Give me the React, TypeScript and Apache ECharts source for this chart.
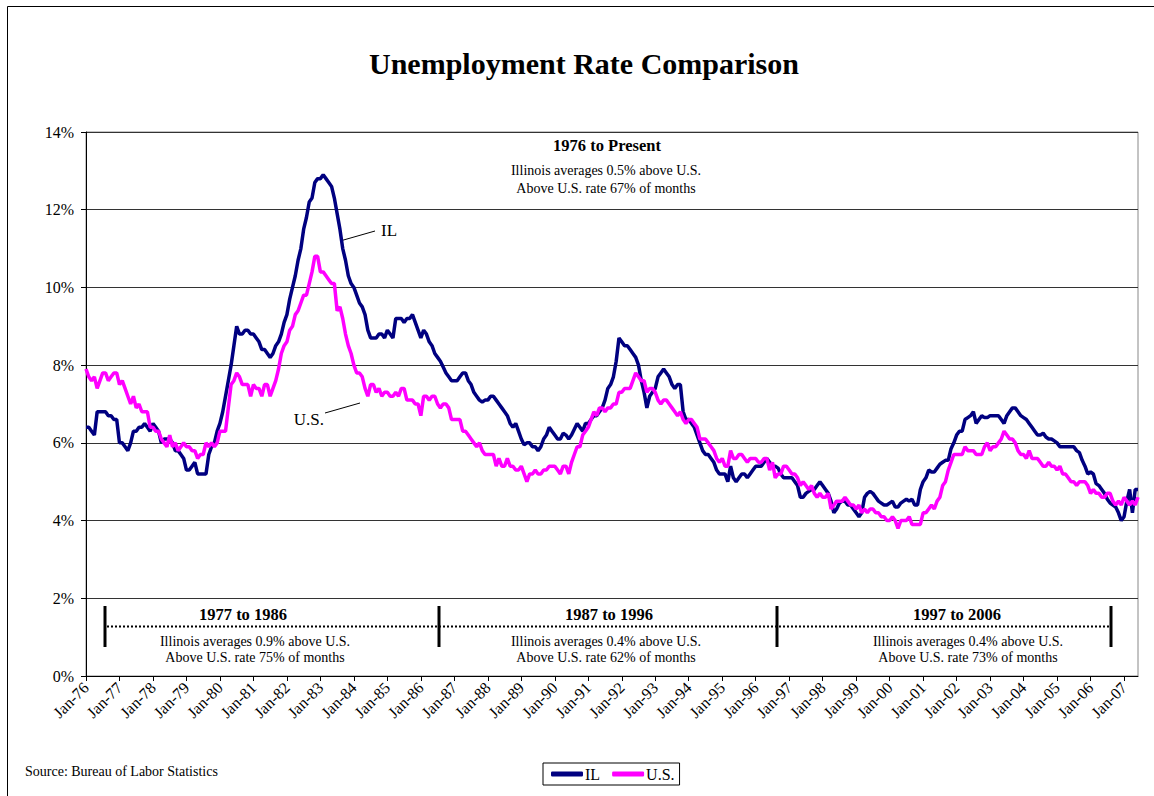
import { useEffect, useRef } from 'react';
import * as echarts from 'echarts';

const START_YEAR = 1976;
const MONTHS = ['Jan', 'Feb', 'Mar', 'Apr', 'May', 'Jun', 'Jul', 'Aug', 'Sep', 'Oct', 'Nov', 'Dec'];
const N_MONTHS = 378; // Jan-76 .. Jun-07

const Y_TICKS = [0, 2, 4, 6, 8, 10, 12, 14];

// Illinois unemployment rate (%), monthly
const il1976_1985 = [
  6.4, 6.4, 6.3, 6.2, 6.8, 6.8, 6.8, 6.8, 6.7, 6.7, 6.6, 6.6,
  6.0, 6.0, 5.9, 5.8, 6.0, 6.3, 6.3, 6.4, 6.4, 6.5, 6.4, 6.3,
  6.5, 6.4, 6.3, 6.0, 6.1, 6.1, 6.1, 6.0, 5.8, 5.8, 5.7, 5.6,
  5.3, 5.3, 5.4, 5.5, 5.2, 5.2, 5.2, 5.2, 5.7, 5.9, 6.0, 6.3,
  6.5, 6.8, 7.2, 7.6, 8.0, 8.5, 9.0, 8.8, 8.8, 8.9, 8.9, 8.8,
  8.8, 8.7, 8.6, 8.4, 8.4, 8.3, 8.2, 8.3, 8.5, 8.6, 8.8, 9.1,
  9.3, 9.7, 10.0, 10.3, 10.7, 11.0, 11.5, 11.8, 12.2, 12.3, 12.7, 12.8,
  12.8, 12.9, 12.8, 12.7, 12.6, 12.3, 11.9, 11.5, 11.0, 10.7, 10.3, 10.1,
  10.0, 9.8, 9.6, 9.5, 9.3, 8.9, 8.7, 8.7, 8.7, 8.8, 8.8, 8.7,
  8.9, 8.8, 8.7, 9.2, 9.2, 9.2, 9.1, 9.2, 9.2, 9.3, 9.1, 8.9,
];
const il1986_1995 = [
  8.7, 8.9, 8.8, 8.6, 8.5, 8.3, 8.2, 8.1, 7.95, 7.8, 7.7, 7.6,
  7.6, 7.6, 7.7, 7.8, 7.8, 7.6, 7.5, 7.3, 7.2, 7.1, 7.05, 7.1,
  7.1, 7.2, 7.2, 7.1, 7.0, 6.9, 6.8, 6.7, 6.5, 6.4, 6.5, 6.3,
  6.1, 5.95, 6.0, 6.0, 5.9, 5.9, 5.8, 5.9, 6.1, 6.2, 6.4, 6.3,
  6.2, 6.1, 6.1, 6.25, 6.2, 6.1, 6.2, 6.35, 6.5, 6.4, 6.3, 6.5,
  6.5, 6.6, 6.7, 6.7, 6.8, 6.9, 7.1, 7.4, 7.5, 7.7, 8.1, 8.7,
  8.6, 8.5, 8.5, 8.4, 8.3, 8.2, 8.0, 7.6, 7.3, 6.9, 7.2, 7.3,
  7.4, 7.7, 7.8, 7.9, 7.8, 7.7, 7.5, 7.4, 7.5, 7.5, 6.8, 6.6,
  6.6, 6.5, 6.4, 6.2, 6.0, 5.8, 5.7, 5.7, 5.6, 5.5, 5.3, 5.2,
  5.2, 5.2, 5.0, 5.4, 5.1, 5.0, 5.1, 5.2, 5.2, 5.1, 5.2, 5.3,
];
const il1996_2007 = [
  5.4, 5.4, 5.4, 5.5, 5.6, 5.5, 5.4, 5.4, 5.35, 5.2, 5.1, 5.1,
  5.1, 5.1, 5.0, 4.9, 4.6, 4.6, 4.7, 4.75, 4.8, 4.8, 4.9, 5.0,
  4.9, 4.8, 4.7, 4.5, 4.2, 4.3, 4.45, 4.5, 4.5, 4.4, 4.4, 4.3,
  4.2, 4.1, 4.2, 4.6, 4.7, 4.75, 4.7, 4.6, 4.5, 4.45, 4.4, 4.4,
  4.45, 4.5, 4.35, 4.35, 4.45, 4.5, 4.55, 4.5, 4.55, 4.4, 4.4, 4.8,
  5.0, 5.1, 5.3, 5.25, 5.25, 5.35, 5.45, 5.5, 5.55, 5.55, 5.85, 6.0,
  6.2, 6.3, 6.3, 6.6, 6.65, 6.7, 6.8, 6.5, 6.6, 6.7, 6.65, 6.65,
  6.7, 6.7, 6.7, 6.7, 6.6, 6.5, 6.7, 6.8, 6.9, 6.9, 6.8, 6.7,
  6.65, 6.6, 6.5, 6.4, 6.3, 6.2, 6.2, 6.25, 6.15, 6.1, 6.1, 6.05,
  6.0, 5.9, 5.9, 5.9, 5.9, 5.9, 5.9, 5.8, 5.75, 5.55, 5.4, 5.2,
  5.25, 5.2, 4.95, 4.9, 4.8, 4.7, 4.55, 4.45, 4.4, 4.35, 4.2, 4.0,
  4.1, 4.5, 4.8, 4.2, 4.8, 4.8,
];

// U.S. unemployment rate (%), monthly
const us1976_1985 = [
  7.9, 7.7, 7.6, 7.7, 7.4, 7.6, 7.8, 7.8, 7.6, 7.7, 7.8, 7.8,
  7.5, 7.6, 7.4, 7.2, 7.0, 7.2, 6.9, 7.0, 6.8, 6.8, 6.8, 6.4,
  6.4, 6.3, 6.3, 6.1, 6.0, 5.9, 6.2, 5.9, 6.0, 5.8, 5.9, 6.0,
  5.9, 5.9, 5.8, 5.8, 5.6, 5.7, 5.7, 6.0, 5.9, 6.0, 5.9, 6.0,
  6.3, 6.3, 6.3, 6.9, 7.5, 7.6, 7.8, 7.7, 7.5, 7.5, 7.5, 7.2,
  7.5, 7.4, 7.4, 7.2, 7.5, 7.5, 7.2, 7.4, 7.6, 7.9, 8.3, 8.5,
  8.6, 8.9, 9.0, 9.3, 9.4, 9.6, 9.8, 9.8, 10.1, 10.4, 10.8, 10.8,
  10.4, 10.4, 10.3, 10.2, 10.1, 10.1, 9.4, 9.5, 9.2, 8.8, 8.5, 8.3,
  8.0, 7.8, 7.8, 7.7, 7.4, 7.2, 7.5, 7.5, 7.3, 7.4, 7.2, 7.3,
  7.3, 7.2, 7.2, 7.3, 7.2, 7.4, 7.4, 7.1, 7.1, 7.1, 7.0, 7.0,
];
const us1986_1995 = [
  6.7, 7.2, 7.2, 7.1, 7.2, 7.2, 7.0, 6.9, 7.0, 7.0, 6.9, 6.6,
  6.6, 6.6, 6.6, 6.3, 6.3, 6.2, 6.1, 6.0, 5.9, 6.0, 5.8, 5.7,
  5.7, 5.7, 5.7, 5.4, 5.6, 5.4, 5.4, 5.6, 5.4, 5.4, 5.3, 5.3,
  5.4, 5.2, 5.0, 5.2, 5.2, 5.3, 5.2, 5.2, 5.3, 5.3, 5.4, 5.4,
  5.4, 5.3, 5.2, 5.4, 5.4, 5.2, 5.5, 5.7, 5.9, 5.9, 6.2, 6.3,
  6.4, 6.6, 6.8, 6.7, 6.9, 6.9, 6.8, 6.9, 6.9, 7.0, 7.0, 7.3,
  7.3, 7.4, 7.4, 7.4, 7.6, 7.8, 7.7, 7.6, 7.6, 7.3, 7.4, 7.4,
  7.3, 7.1, 7.0, 7.1, 7.1, 7.0, 6.9, 6.8, 6.7, 6.8, 6.6, 6.5,
  6.6, 6.6, 6.5, 6.4, 6.1, 6.1, 6.1, 6.0, 5.9, 5.8, 5.6, 5.5,
  5.6, 5.4, 5.4, 5.8, 5.6, 5.6, 5.7, 5.7, 5.6, 5.5, 5.6, 5.6,
];
const us1996_2007 = [
  5.6, 5.5, 5.5, 5.6, 5.6, 5.3, 5.5, 5.1, 5.2, 5.2, 5.4, 5.4,
  5.3, 5.2, 5.2, 5.1, 4.9, 5.0, 4.9, 4.8, 4.9, 4.7, 4.6, 4.7,
  4.6, 4.6, 4.7, 4.3, 4.4, 4.5, 4.5, 4.5, 4.6, 4.5, 4.4, 4.4,
  4.3, 4.4, 4.2, 4.3, 4.2, 4.3, 4.3, 4.2, 4.2, 4.1, 4.1, 4.0,
  4.0, 4.1, 4.0, 3.8, 4.0, 4.0, 4.0, 4.1, 3.9, 3.9, 3.9, 3.9,
  4.2, 4.2, 4.3, 4.4, 4.3, 4.5, 4.6, 4.9, 5.0, 5.3, 5.5, 5.7,
  5.7, 5.7, 5.7, 5.9, 5.8, 5.8, 5.8, 5.7, 5.7, 5.7, 5.9, 6.0,
  5.8, 5.9, 5.9, 6.0, 6.1, 6.3, 6.2, 6.1, 6.1, 6.0, 5.8, 5.7,
  5.7, 5.6, 5.8, 5.6, 5.6, 5.6, 5.5, 5.4, 5.4, 5.5, 5.4, 5.4,
  5.3, 5.4, 5.2, 5.2, 5.1, 5.0, 5.0, 4.9, 5.0, 5.0, 5.0, 4.9,
  4.7, 4.8, 4.7, 4.7, 4.6, 4.6, 4.7, 4.7, 4.5, 4.4, 4.5, 4.4,
  4.6, 4.5, 4.4, 4.5, 4.4, 4.6,
];

const TITLE = 'Unemployment Rate Comparison';
const PERIODS = [
  { label: '1977 to 1986', avg: 'Illinois averages 0.9% above U.S.', share: 'Above U.S. rate 75% of months' },
  { label: '1987 to 1996', avg: 'Illinois averages 0.4% above U.S.', share: 'Above U.S. rate 62% of months' },
  { label: '1997 to 2006', avg: 'Illinois averages 0.4% above U.S.', share: 'Above U.S. rate 73% of months' },
];
const OVERALL = { label: '1976 to Present', avg: 'Illinois averages 0.5% above U.S.', share: 'Above U.S. rate 67% of months' };

const SERIF = '"Liberation Serif", "Times New Roman", serif';

export default function App() {
  const ref = useRef<HTMLDivElement>(null);

  useEffect(() => {
    document.body.style.margin = '0';
    if (!ref.current) return;
    const chart = echarts.init(ref.current, undefined, { renderer: 'svg' });

    const categories: string[] = [];
    for (let i = 0; i < N_MONTHS; i++) {
      const y = START_YEAR + Math.floor(i / 12);
      categories.push(`${MONTHS[i % 12]}-${String(y % 100).padStart(2, '0')}`);
    }
    const il = [...il1976_1985, ...il1986_1995, ...il1996_2007];
    const us = [...us1976_1985, ...us1986_1995, ...us1996_2007];

    const periodCenters = [255, 606, 968];
    const periodTitleCenters = [243, 609, 957];
    const bars = [105, 439, 777, 1111];

    const txt = (text: string, x: number, y: number, font: string, align = 'center') => ({
      type: 'text',
      style: { text, x, y, font, fill: '#000', textAlign: align, textVerticalAlign: 'middle' },
    });

    const graphics: any[] = [
      { type: 'rect', shape: { x: 7.5, y: 6.5, width: 1200, height: 900 }, style: { fill: 'none', stroke: '#000', lineWidth: 1 }, silent: true },
      txt(TITLE, 584, 63, `bold 30px ${SERIF}`),
      txt(OVERALL.label, 607, 145, `bold 16.5px ${SERIF}`),
      txt(OVERALL.avg, 606, 170, `14px ${SERIF}`),
      txt(OVERALL.share, 606, 188, `14px ${SERIF}`),
      { type: 'line', shape: { x1: 340, y1: 241, x2: 375, y2: 231 }, style: { stroke: '#000', lineWidth: 1 } },
      txt('IL', 381, 230, `17px ${SERIF}`, 'left'),
      { type: 'line', shape: { x1: 325, y1: 413, x2: 360, y2: 403 }, style: { stroke: '#000', lineWidth: 1 } },
      txt('U.S.', 324, 419, `17px ${SERIF}`, 'right'),
      { type: 'line', shape: { x1: 107, y1: 626.5, x2: 1110, y2: 626.5 }, style: { stroke: '#000', lineWidth: 2, lineDash: [2, 2] } },
      txt('Source: Bureau of Labor Statistics', 25, 771, `14px ${SERIF}`, 'left'),
    ];
    bars.forEach((bx) => {
      graphics.push({ type: 'rect', shape: { x: bx - 1.5, y: 606, width: 3, height: 41 }, style: { fill: '#000' } });
    });
    PERIODS.forEach((p, i) => {
      graphics.push({ type: 'rect', shape: { x: periodTitleCenters[i] - 50, y: 605, width: 100, height: 18 }, style: { fill: '#fff' } });
      graphics.push(txt(p.label, periodTitleCenters[i], 614, `bold 16.5px ${SERIF}`));
      graphics.push(txt(p.avg, periodCenters[i], 641, `14px ${SERIF}`));
      graphics.push(txt(p.share, periodCenters[i], 657.5, `14px ${SERIF}`));
    });

    const yearStart = (idx: number) => idx % 12 === 0;

    chart.setOption({
      animation: false,
      backgroundColor: '#fff',
      grid: { left: 86, right: 16, top: 132, bottom: 120, show: true, borderColor: '#888', borderWidth: 1, containLabel: false },
      legend: {
        left: 543, top: 763,
        data: ['IL', 'U.S.'],
        icon: 'roundRect', itemWidth: 32, itemHeight: 5, itemGap: 12,
        borderColor: '#000', borderWidth: 1, padding: [3, 5, 3, 8],
        textStyle: { fontFamily: SERIF, fontSize: 16, color: '#000', padding: [0, 0, 0, -3] },
      },
      xAxis: {
        type: 'category',
        data: categories,
        boundaryGap: false,
        axisLine: { lineStyle: { color: '#000', width: 1 } },
        axisTick: { show: true, interval: yearStart, length: 5, lineStyle: { color: '#000' } },
        axisLabel: { interval: yearStart, rotate: 45, fontFamily: SERIF, fontSize: 16, color: '#000', margin: 9 },
        splitLine: { show: false },
      },
      yAxis: {
        type: 'value',
        min: Y_TICKS[0], max: Y_TICKS[Y_TICKS.length - 1], interval: 2,
        axisLine: { show: true, lineStyle: { color: '#000', width: 1 } },
        axisTick: { show: true, length: 5, lineStyle: { color: '#000' } },
        axisLabel: { formatter: '{value}%', fontFamily: SERIF, fontSize: 16, color: '#000', margin: 12 },
        splitLine: { show: true, lineStyle: { color: '#333', width: 1 } },
      },
      series: [
        { name: 'IL', type: 'line', data: il, showSymbol: false, symbol: 'none', lineStyle: { color: '#000080', width: 3.5 }, itemStyle: { color: '#000080' } },
        { name: 'U.S.', type: 'line', data: us, showSymbol: false, symbol: 'none', lineStyle: { color: '#FF00FF', width: 3.5 }, itemStyle: { color: '#FF00FF' } },
      ],
      graphic: graphics,
    });

    return () => chart.dispose();
  }, []);

  return <div ref={ref} style={{ width: 1154, height: 796 }} />;
}
